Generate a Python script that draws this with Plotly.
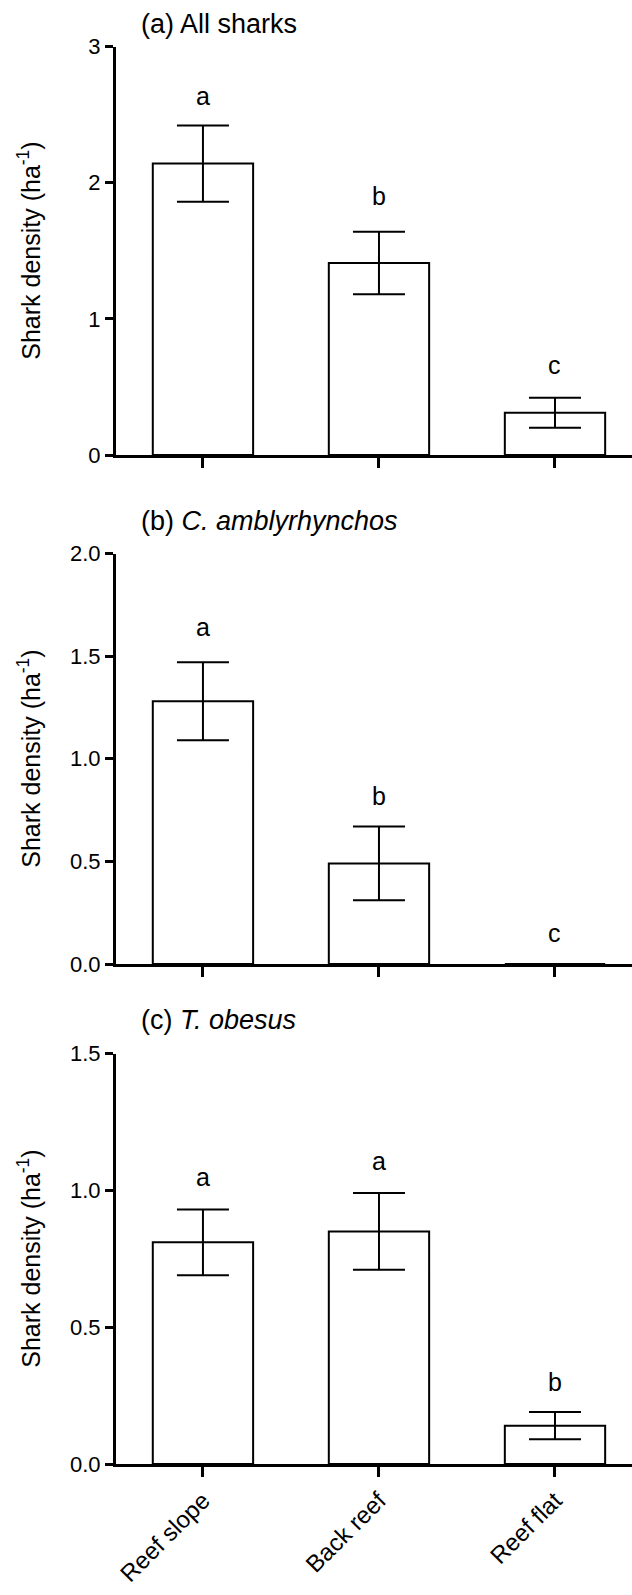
import plotly.graph_objects as go

categories = ["Reef slope", "Back reef", "Reef flat"]

all_mean = [2.14, 1.41, 0.31]
all_err = [0.28, 0.23, 0.11]
all_letters = ["a", "b", "c"]
all_letter_y = [2.64, 1.90, 0.66]

camb_mean = [1.28, 0.49, 0.0]
camb_err = [0.19, 0.18, 0.0]
camb_letters = ["a", "b", "c"]
camb_letter_y = [1.64, 0.82, 0.15]

tob_mean = [0.81, 0.85, 0.14]
tob_err = [0.12, 0.14, 0.05]
tob_letters = ["a", "a", "b"]
tob_letter_y = [1.05, 1.107, 0.30]

titles = ["(a) All sharks", "(b) <i>C. amblyrhynchos</i>", "(c) <i>T. obesus</i>"]
y_ranges = [[0, 3], [0, 2], [0, 1.5]]
y_tickvals = [[0, 1, 2, 3], [0, 0.5, 1.0, 1.5, 2.0], [0, 0.5, 1.0, 1.5]]
y_ticktext = [["0", "1", "2", "3"], ["0.0", "0.5", "1.0", "1.5", "2.0"], ["0.0", "0.5", "1.0", "1.5"]]
ytitle = "Shark density (ha<sup>-1</sup>)"

W, H = 632, 1595
LEFT = 116
FONT = "Liberation Sans, Arial, sans-serif"

# panel pixel extents (top, bottom)
panels_px = [(46.5, 455), (553.5, 964), (1053.5, 1464)]
title_px = [24, 521, 1020]

def fy(px):
    return 1 - px / H

fig = go.Figure()
means = [all_mean, camb_mean, tob_mean]
errs = [all_err, camb_err, tob_err]
letters = [all_letters, camb_letters, tob_letters]
letter_ys = [all_letter_y, camb_letter_y, tob_letter_y]

annotations = []
for i in range(3):
    xa = "x" if i == 0 else f"x{i+1}"
    ya = "y" if i == 0 else f"y{i+1}"
    fig.add_trace(go.Bar(
        x=categories, y=means[i], width=0.57,
        marker=dict(color="white", line=dict(color="black", width=2)),
        error_y=dict(type="data", array=errs[i], visible=True,
                     color="black", thickness=2, width=26),
        xaxis=xa, yaxis=ya, showlegend=False,
    ))
    for c, t, ly in zip(categories, letters[i], letter_ys[i]):
        annotations.append(dict(
            x=c, y=ly, xref=xa, yref=ya, text=t, showarrow=False,
            font=dict(family=FONT, size=25, color="black"),
            xanchor="center", yanchor="middle"))
    annotations.append(dict(
        x=(139 - LEFT) / (W - LEFT), y=fy(title_px[i]), xref="paper", yref="paper",
        text=titles[i], showarrow=False, xanchor="left", yanchor="middle",
        font=dict(family=FONT, size=27, color="black")))
    top, bot = panels_px[i]
    annotations.append(dict(
        x=(29 - LEFT) / (W - LEFT), y=fy((top + bot) / 2), xref="paper", yref="paper",
        text=ytitle, showarrow=False, textangle=-90, xanchor="center", yanchor="middle",
        font=dict(family=FONT, size=25, color="black")))

layout = dict(
    width=W, height=H,
    margin=dict(l=LEFT, r=0, t=0, b=0, autoexpand=False),
    paper_bgcolor="white", plot_bgcolor="white",
    annotations=annotations,
    font=dict(family=FONT, color="black"),
)

for i in range(3):
    xk = "xaxis" if i == 0 else f"xaxis{i+1}"
    yk = "yaxis" if i == 0 else f"yaxis{i+1}"
    ya = "y" if i == 0 else f"y{i+1}"
    xa = "x" if i == 0 else f"x{i+1}"
    top, bot = panels_px[i]
    layout[xk] = dict(
        domain=[0, 1], anchor=ya, type="category",
        range=[-0.494, 2.4375], automargin=False,
        showline=True, linecolor="black", linewidth=3,
        ticks="outside", ticklen=10, tickwidth=3, tickcolor="black",
        showgrid=False, zeroline=False,
        showticklabels=(i == 2), tickangle=-45,
        tickfont=dict(family=FONT, size=24, color="black"),
    )
    layout[yk] = dict(
        domain=[fy(bot), fy(top)], anchor=xa, automargin=False,
        range=y_ranges[i], tickvals=y_tickvals[i], ticktext=y_ticktext[i],
        showline=True, linecolor="black", linewidth=3,
        ticks="outside", ticklen=8, tickwidth=3, tickcolor="black",
        showgrid=False, zeroline=False,
        tickfont=dict(family=FONT, size=22, color="black"),
    )

fig.update_layout(**layout)
fig.write_html("out.html")
